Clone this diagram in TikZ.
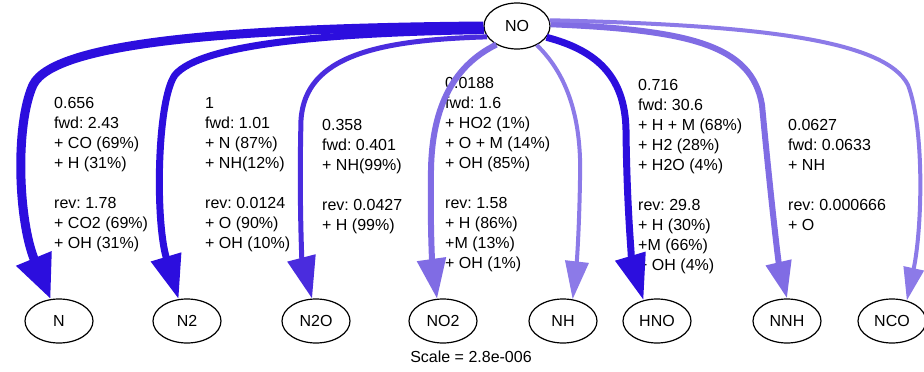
\documentclass[tikz,border=0pt]{standalone}
\usepackage{fontspec}
\setmainfont{Liberation Sans}
\usetikzlibrary{shapes.geometric, arrows.meta}
\definecolor{fluxdark}{RGB}{44,14,222}
\definecolor{fluxmid}{RGB}{74,44,222}
\definecolor{fluxlight}{RGB}{128,108,228}
\definecolor{fluxpale}{RGB}{140,122,232}
\frenchspacing
\begin{document}
\begin{tikzpicture}[x = 1pt, y = -1pt, font = \fontsize{16}{20}\selectfont,
  species/.style = {ellipse, draw, line width = 1.2pt, minimum width = 68pt,
    minimum height = 44pt, inner sep = 0pt},
  rate/.style = {anchor = north west, align = left, inner sep = 0pt},
  head/.style 2 args = {-{Triangle[length = #1, width = #2]}}]
  \useasboundingbox [fill = white] (0,0) rectangle (924,372);
  % species
  \node [species, minimum width = 66pt, minimum height = 46pt] (NO) at (517,26) {NO};
  \node [species] (N)   at (59,321)  {N};
  \node [species] (N2)  at (187,321) {N2};
  \node [species] (N2O) at (316,321) {N2O};
  \node [species] (NO2) at (443,321) {NO2};
  \node [species] (NH)  at (563,321) {NH};
  \node [species] (HNO) at (657,321) {HNO};
  \node [species] (NNH) at (787,321) {NNH};
  \node [species] (NCO) at (892,321) {NCO};
  \node (scale) at (471,357) {Scale = 2.8e-006};
  % rates
  \node [rate] (rN) at (54,97) {0.656\\fwd: 2.43\\+ CO (69\%)\\+ H (31\%)\\[20pt]
    rev: 1.78\\+ CO2 (69\%)\\+ OH (31\%)};
  \node [rate] (rN2) at (205,97) {1\\fwd: 1.01\\+ N (87\%)\\+ NH(12\%)\\[20pt]
    rev: 0.0124\\+ O (90\%)\\+ OH (10\%)};
  \node [rate] (rN2O) at (322,119) {0.358\\fwd: 0.401\\+ NH(99\%)\\[20pt]
    rev: 0.0427\\+ H (99\%)};
  \node [rate] (rNO2) at (445,77) {0.0188\\fwd: 1.6\\+ HO2 (1\%)\\+ O + M (14\%)\\
    + OH (85\%)\\[20pt]rev: 1.58\\+ H (86\%)\\+M (13\%)\\+ OH (1\%)};
  \node [rate] (rHNO) at (638,79) {0.716\\fwd: 30.6\\+ H + M (68\%)\\+ H2 (28\%)\\
    + H2O (4\%)\\[20pt]rev: 29.8\\+ H (30\%)\\+M (66\%)\\+ OH (4\%)};
  \node [rate] (rNNH) at (788,119) {0.0627\\fwd: 0.0633\\+ NH\\[20pt]
    rev: 0.000666\\+ O};
  % fluxes
  \draw [fluxdark, line width = 9pt, head = {44pt}{36pt}] (NO.west)
    .. controls (250,28) and (55,40) .. (33,85)
    .. controls (15,125) and (18,220) .. (N.111);
  \draw [fluxdark, line width = 7pt, head = {44pt}{30pt}] (NO.188)
    .. controls (320,33) and (200,45) .. (175,75)
    .. controls (157,100) and (155,220) .. (N2.111);
  \draw [fluxmid, line width = 5pt, head = {42pt}{28pt}] (NO.200)
    .. controls (380,40) and (305,55) .. (301,120)
    .. controls (299,200) and (302,260) .. (N2O.100);
  \draw [fluxlight, line width = 6pt, head = {40pt}{28pt}] (NO.222)
    .. controls (455,65) and (432,105) .. (431,170)
    .. controls (430,240) and (433,270) .. (NO2.105);
  \draw [fluxpale, line width = 4pt, head = {38pt}{23pt}] (NO.316)
    .. controls (568,75) and (582,120) .. (580,180)
    .. controls (579,240) and (576,270) .. (NH.66);
  \draw [fluxdark, line width = 7pt, head = {46pt}{30pt}] (NO.339)
    .. controls (595,50) and (625,75) .. (626,130)
    .. controls (627,220) and (633,265) .. (HNO.123);
  \draw [fluxlight, line width = 6pt, head = {37pt}{25pt}] (NO.3)
    .. controls (690,30) and (752,45) .. (762,105)
    .. controls (770,190) and (778,260) .. (NNH.north);
  \draw [fluxpale, line width = 4pt, head = {33pt}{20pt}] (NO.10)
    .. controls (760,25) and (885,40) .. (908,85)
    .. controls (925,130) and (922,230) .. (NCO.54);
\end{tikzpicture}
\end{document}
